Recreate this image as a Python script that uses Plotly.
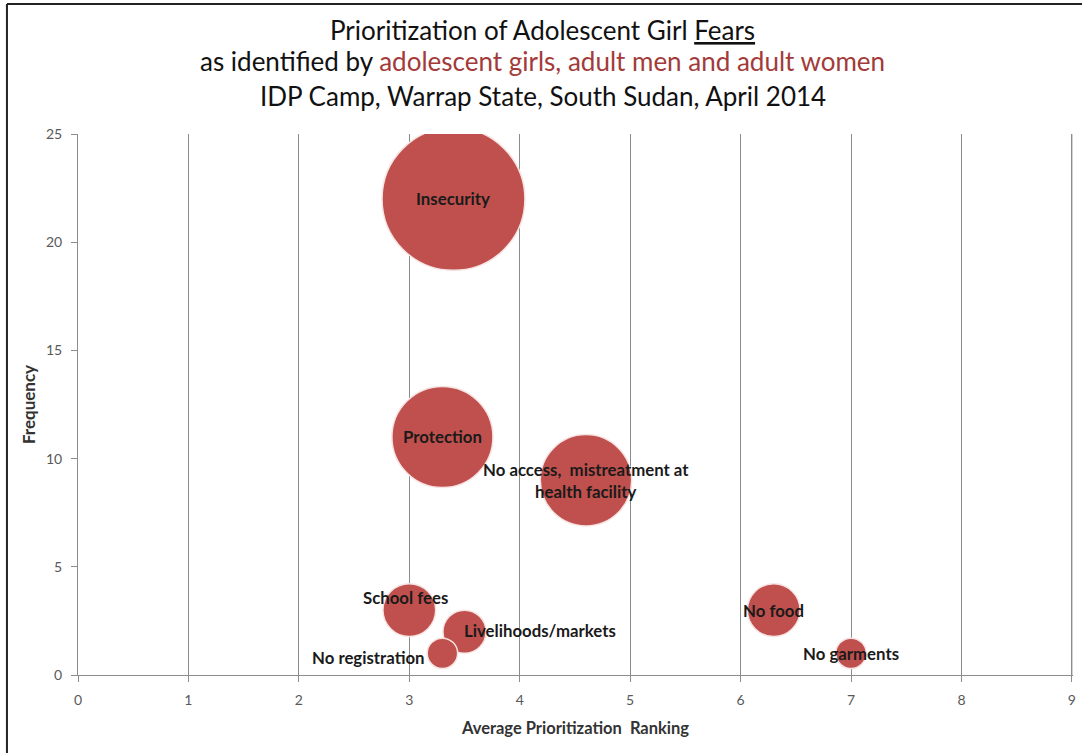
import plotly.graph_objects as go

# ---- data ----
categories = ["Insecurity", "Protection", "No access,  mistreatment at<br>health facility",
              "School fees", "Livelihoods/markets", "No registration", "No food", "No garments"]
avg_ranking = [3.4, 3.3, 4.6, 3.0, 3.5, 3.3, 6.3, 7.0]
frequency = [22, 11, 9, 3, 2, 1, 3, 1]
bubble_size = [22, 11, 9, 3, 2, 1, 3, 1]
x_ticks = [0, 1, 2, 3, 4, 5, 6, 7, 8, 9]
y_ticks = [0, 5, 10, 15, 20, 25]
title_lines = ["Prioritization of Adolescent Girl <u>Fears</u>",
               "as identified by <span style='color:#A23B39'>adolescent girls, adult men and adult women</span>",
               "IDP Camp, Warrap State, South Sudan, April 2014"]

# ---- label placement (style) ----
label_anchor = ["center", "center", "center", "center", "left", "right", "center", "center"]
label_xshift = [0, 0, 0, -4, -3, -15, 0, 0]
label_yshift = [0, 0, 0, 13, 1, -4, 0, 0]
title_y = [1.1920, 1.1345, 1.0702]

FONT = "Lato"
RED = "#C0504D"
GRID = "#8C8C8C"

fig = go.Figure()
fig.add_trace(go.Scatter(
    x=avg_ranking, y=frequency, mode="markers",
    marker=dict(size=bubble_size, sizemode="area", sizeref=1 / (2 * 232.0),
                color=RED, opacity=1, line=dict(color="#F6E3E2", width=1.5)),
    cliponaxis=True, hoverinfo="skip", showlegend=False,
))

for i, cat in enumerate(categories):
    fig.add_annotation(
        x=avg_ranking[i], y=frequency[i], text="<b>" + cat + "</b>", showarrow=False,
        xanchor=label_anchor[i], yanchor="middle", align="center",
        xshift=label_xshift[i], yshift=label_yshift[i],
        font=dict(family=FONT, size=16.8, color="#1A1A1A"),
    )

for j, line in enumerate(title_lines):
    fig.add_annotation(
        x=0.4673, y=title_y[j], xref="paper", yref="paper", text=line, showarrow=False,
        xanchor="center", yanchor="middle",
        font=dict(family=FONT, size=26, color="#111111"),
    )

fig.update_layout(
    width=1082, height=753,
    margin=dict(l=78, r=9, t=134, b=78, autoexpand=False),
    paper_bgcolor="white", plot_bgcolor="white",
    font=dict(family=FONT, color="#404040"),
    xaxis=dict(range=[0, 9.01], tickvals=x_ticks, showgrid=True, gridcolor=GRID, gridwidth=1,
               showline=True, linecolor=GRID, linewidth=1, ticks="outside", ticklen=6,
               tickcolor=GRID, zeroline=False, ticklabelstandoff=6,
               tickfont=dict(family=FONT, size=14, color="#595959"),
               title=dict(text="<b>Average Prioritization  Ranking</b>", standoff=15,
                          font=dict(family=FONT, size=16.5, color="#333333"))),
    yaxis=dict(range=[0, 25], tickvals=y_ticks, showgrid=False,
               showline=True, linecolor=GRID, linewidth=1, ticks="outside", ticklen=6,
               tickcolor=GRID, zeroline=False, ticklabelstandoff=6,
               tickfont=dict(family=FONT, size=14, color="#595959"),
               title=dict(text="<b>Frequency</b>", standoff=6,
                          font=dict(family=FONT, size=17, color="#333333"))),
    shapes=[
        # gridline at the right edge of the plot (last x tick)
        dict(type="line", xref="x", yref="paper", x0=x_ticks[-1], x1=x_ticks[-1], y0=0, y1=1,
             line=dict(color=GRID, width=1), layer="above"),
        # mask bubble overflow above the plot area (clipping like the original)
        dict(type="rect", xref="x", yref="paper", x0=2.0, x1=5.0, y0=1.0008, y1=1.05,
             fillcolor="white", line=dict(width=0), layer="above"),
        # outer frame
        dict(type="line", xref="paper", yref="paper", x0=-0.0714, x1=1.05, y0=1.2403, y1=1.2403,
             line=dict(color="#222222", width=2)),
        dict(type="line", xref="paper", yref="paper", x0=-0.0714, x1=-0.0714, y0=-0.2, y1=1.2403,
             line=dict(color="#222222", width=2)),
    ],
)

fig.write_html("out.html", config={"displayModeBar": False},
               post_script="document.body.style.margin='0';")
